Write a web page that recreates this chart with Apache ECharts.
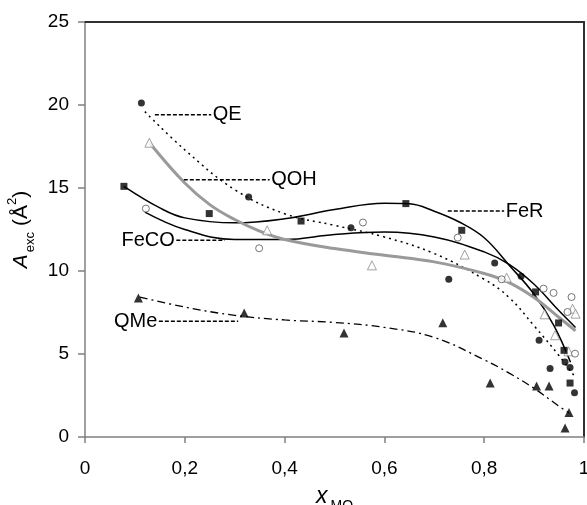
<!DOCTYPE html>
<html>
<head>
<meta charset="utf-8">
<script src="https://cdn.jsdelivr.net/npm/echarts@6/dist/echarts.min.js"></script>
<style>html,body{margin:0;padding:0;background:#fff}#c{width:587px;height:505px}</style>
</head>
<body>
<div id="c"></div>
<script>
// ---- data ----
const xTickLabels = ['0', '0,2', '0,4', '0,6', '0,8', '1'];
const yTickLabels = ['0', '5', '10', '15', '20', '25'];

// measured points
const ptsQE  = [[0.113,20.12],[0.328,14.46],[0.533,12.61],[0.729,9.50],[0.821,10.48],[0.874,9.68],[0.910,5.83],[0.932,4.12],[0.962,4.52],[0.972,4.18],[0.981,2.67]];
const ptsQOH = [[0.129,17.73],[0.365,12.45],[0.575,10.34],[0.761,10.99],[0.845,9.60],[0.921,7.39],[0.942,6.13],[0.969,5.16],[0.977,7.73],[0.983,7.43]];
const ptsFeR = [[0.078,15.10],[0.249,13.46],[0.433,13.01],[0.643,14.06],[0.755,12.45],[0.903,8.74],[0.949,6.87],[0.960,5.22],[0.972,3.25]];
const ptsFeCO= [[0.122,13.76],[0.349,11.37],[0.557,12.92],[0.747,12.01],[0.835,9.50],[0.919,8.94],[0.939,8.68],[0.975,8.43],[0.967,7.53],[0.982,5.02]];
const ptsQMe = [[0.107,8.37],[0.319,7.47],[0.519,6.27],[0.717,6.89],[0.812,3.25],[0.905,3.07],[0.930,3.07],[0.962,0.54],[0.970,1.47]];

// trend curves
const fitQE  = [[0.12,19.6],[0.2,17.3],[0.3,14.9],[0.4,13.45],[0.5,12.75],[0.6,12.05],[0.7,11.05],[0.8,9.5],[0.85,8.4],[0.9,6.7],[0.95,4.9],[0.98,3.7]];
const fitQOH = [[0.13,17.7],[0.2,15.3],[0.25,14.0],[0.3,13.1],[0.35,12.4],[0.4,11.9],[0.5,11.35],[0.6,10.95],[0.7,10.55],[0.8,9.85],[0.85,9.3],[0.9,8.4],[0.95,7.2],[0.983,6.4]];
const fitFeR = [[0.078,15.1],[0.15,13.8],[0.2,13.2],[0.3,12.9],[0.4,13.15],[0.5,13.7],[0.6,14.08],[0.65,14.05],[0.7,13.6],[0.75,12.95],[0.8,12.0],[0.85,10.35],[0.9,8.6],[0.94,6.7],[0.973,4.5]];
const fitFeCO= [[0.12,13.55],[0.2,12.5],[0.3,11.9],[0.4,11.9],[0.5,12.2],[0.6,12.35],[0.7,12.05],[0.8,11.15],[0.85,10.4],[0.9,9.2],[0.95,7.6],[0.983,6.6]];
const fitQMe = [[0.11,8.43],[0.2,7.83],[0.3,7.33],[0.4,7.05],[0.5,6.9],[0.6,6.6],[0.7,6.0],[0.8,4.65],[0.85,3.85],[0.9,2.93],[0.95,1.85],[0.97,1.45]];

// annotation leader lines (data coordinates)
const annQE   = [[0.14,19.42],[0.253,19.42]];
const annQOH  = [[0.198,15.5],[0.37,15.5]];
const annFeR  = [[0.727,13.61],[0.84,13.61]];
const annFeCO = [[0.183,11.85],[0.28,11.85]];
const annQMe  = [[0.148,6.97],[0.307,6.97]];

const FONT = 'Liberation Sans, Arial, sans-serif';
const chart = echarts.init(document.getElementById('c'), null, {renderer: 'canvas'});

function curve(data, style) {
  return {type: 'line', data: data, showSymbol: false, symbol: 'none', smooth: 0.4,
          lineStyle: style, silent: true, z: 2};
}
function pts(data, symbol, size, itemStyle) {
  return {type: 'scatter', data: data, symbol: symbol, symbolSize: size, itemStyle: itemStyle, z: 4, silent: true};
}
function ann(data, text, side) {
  const d = data.map(function (p, i) {
    const item = {value: p};
    if ((side === 'right' && i === data.length - 1) || (side === 'left' && i === 0)) {
      item.label = {show: true, position: side, distance: 1, formatter: text,
                    color: '#000', fontSize: 20, fontFamily: FONT};
    }
    return item;
  });
  return {type: 'line', data: d, showSymbol: true, symbol: 'circle', symbolSize: 1,
          itemStyle: {color: 'rgba(0,0,0,0)'},
          lineStyle: {color: '#000', width: 1.5, type: [4, 2]}, silent: true, z: 3};
}

const axisGray = {color: '#808080', width: 1.5};
const F = '#303030';

chart.setOption({
  animation: false,
  backgroundColor: '#fff',
  grid: {left: 85, right: 3, top: 22, bottom: 68, containLabel: false, outerBoundsMode: 'none'},
  xAxis: [{
    type: 'value', min: 0, max: 1, interval: 0.2,
    axisLine: {show: true, lineStyle: axisGray},
    axisTick: {show: true, length: 6, lineStyle: axisGray},
    splitLine: {show: false},
    axisLabel: {margin: 22, color: '#000', fontSize: 19, fontFamily: FONT,
      formatter: function (v) { return xTickLabels[Math.round(v / 0.2)]; }},
    name: '{i|x}{sub|MO}', nameLocation: 'middle', nameGap: 45,
    nameTextStyle: {color: '#000', fontFamily: FONT,
      rich: {i: {fontSize: 23, fontStyle: 'italic', fontFamily: FONT, color: '#000', lineHeight: 26, verticalAlign: 'bottom'},
             sub: {fontSize: 14, fontFamily: FONT, color: '#000', lineHeight: 26, verticalAlign: 'bottom', padding: [0, 0, -5, 3]}}}
  }, {
    type: 'value', min: 0, max: 1, interval: 0.2, position: 'top',
    axisLine: {show: true, onZero: false, lineStyle: {color: F, width: 2}},
    axisTick: {show: false}, axisLabel: {show: false}, splitLine: {show: false}
  }],
  yAxis: [{
    type: 'value', min: 0, max: 25, interval: 5,
    axisLine: {show: true, lineStyle: axisGray},
    axisTick: {show: true, length: 7, lineStyle: axisGray},
    splitLine: {show: false},
    axisLabel: {margin: 16, color: '#000', fontSize: 19, fontFamily: FONT,
      formatter: function (v) { return yTickLabels[Math.round(v / 5)]; }},
    name: '{i|A}{sub|exc}{n| (Å}{sup|2}{n|)}', nameLocation: 'middle', nameRotate: 90, nameGap: 50,
    nameTextStyle: {color: '#000', fontFamily: FONT,
      rich: {i: {fontSize: 21, fontStyle: 'italic', fontFamily: FONT, color: '#000', lineHeight: 26},
             n: {fontSize: 21, fontFamily: FONT, color: '#000', lineHeight: 26},
             sub: {fontSize: 13, fontFamily: FONT, color: '#000', lineHeight: 26, verticalAlign: 'bottom', padding: [0, 0, -3, 2]},
             sup: {fontSize: 13, fontFamily: FONT, color: '#000', lineHeight: 26, verticalAlign: 'top', padding: [-2, 0, 0, 0]}}}
  }, {
    type: 'value', min: 0, max: 25, interval: 5, position: 'right',
    axisLine: {show: true, onZero: false, lineStyle: {color: F, width: 2}},
    axisTick: {show: false}, axisLabel: {show: false}, splitLine: {show: false}
  }],
  series: [
    curve(fitQMe,  {color: '#000', width: 1.3, type: [8, 4, 2, 4]}),
    curve(fitQE,   {color: '#000', width: 1.5, type: [2, 4]}),
    curve(fitFeCO, {color: '#000', width: 1.5}),
    curve(fitFeR,  {color: '#000', width: 1.5}),
    curve(fitQOH,  {color: '#9a9a9a', width: 3}),
    pts(ptsQOH,  'triangle', 9, {color: '#fff', borderColor: '#8a8a8a', borderWidth: 1}),
    pts(ptsFeCO, 'circle',   7, {color: '#fff', borderColor: '#555', borderWidth: 1}),
    pts(ptsQE,   'circle',   7, {color: '#000'}),
    pts(ptsFeR,  'rect',     7, {color: '#000'}),
    pts(ptsQMe,  'triangle', 9, {color: '#000'}),
    ann(annQE, 'QE', 'right'),
    ann(annQOH, 'QOH', 'right'),
    ann(annFeR, 'FeR', 'right'),
    ann(annFeCO, 'FeCO', 'left'),
    ann(annQMe, 'QMe', 'left')
  ]
});
</script>
</body>
</html>
